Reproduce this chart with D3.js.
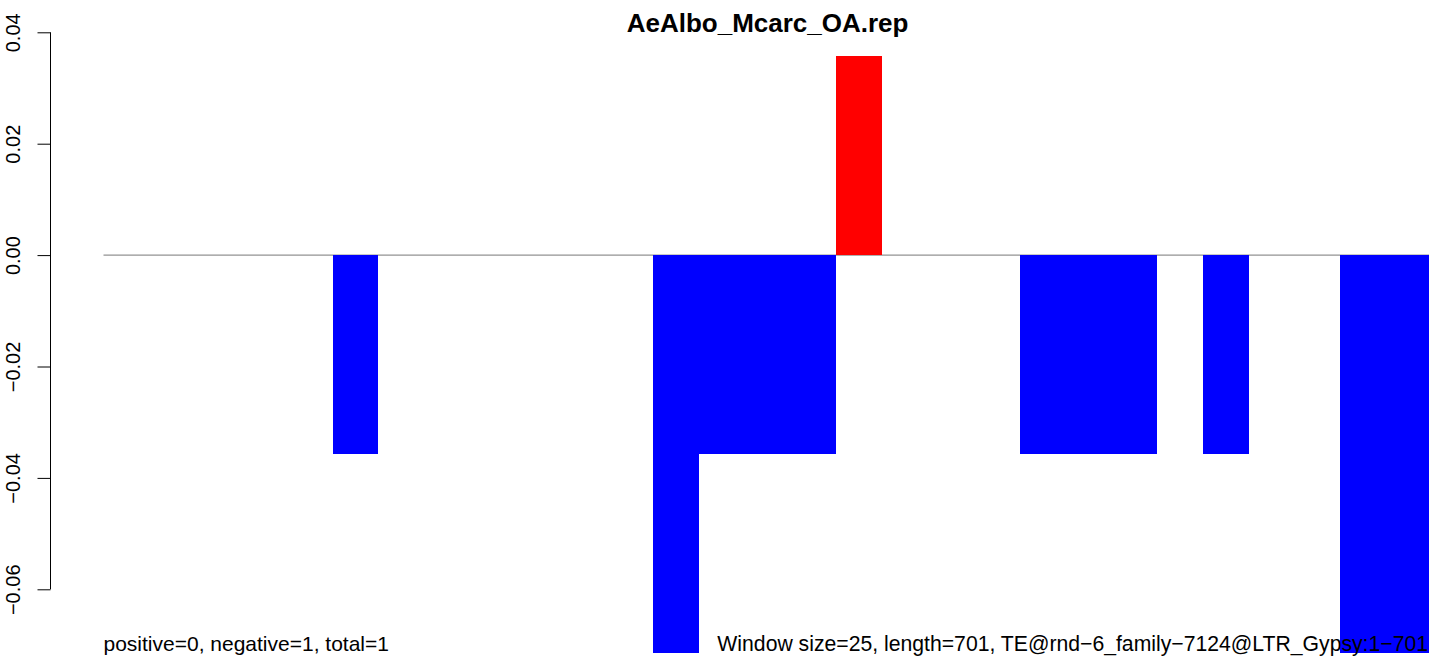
<!DOCTYPE html>
<html>
<head>
<meta charset="utf-8">
<script src="https://cdn.jsdelivr.net/npm/d3@7"></script>
<style>
  body { margin: 0; background: #fff; }
  svg { display: block; font-family: "Liberation Sans", Arial, Helvetica, sans-serif; }
</style>
</head>
<body>
<svg id="chart" width="1429" height="656"></svg>
<script>
// one value per 25 bp window (29 windows over 701 bp)
var windows = d3.range(29);
var values = [0, 0, 0, 0, 0, -0.0357, 0, 0, 0, 0, 0, 0, -0.0714, -0.0357, -0.0357,
	-0.0357, 0.0357, 0, 0, 0, -0.0357, -0.0357, -0.0357, 0, -0.0357, 0, 0, -0.0714, -0.0714];
var yTicks = [-0.06, -0.04, -0.02, 0.00, 0.02, 0.04];
var title = "AeAlbo_Mcarc_OA.rep";
var leftNote = "positive=0, negative=1, total=1";
var rightNote = "Window size=25, length=701, TE@rnd\u22126_family\u22127124@LTR_Gypsy:1\u2212701";

var svg = d3.select("#chart");

var plotLeft = 103.5, barW = 45.8;
var x = d3.scaleBand().domain(windows).range([plotLeft, plotLeft + windows.length * barW]).padding(0);
var y = d3.scaleLinear().domain([-0.06, 0.04]).range([589.3, 32.3]);

// zero line
svg.append("line")
	.attr("x1", plotLeft).attr("x2", 1429)
	.attr("y1", y(0)).attr("y2", y(0))
	.attr("stroke", "#777").attr("stroke-width", 1);

svg.selectAll(".bar")
	.data(windows.filter(function(i) { return values[i] != 0; }))
	.enter().append("rect")
	.attr("class", "bar")
	.attr("x", function(i) { return x(i); })
	.attr("width", x.bandwidth())
	.attr("y", function(i) { return values[i] > 0 ? y(values[i]) : y(0); })
	.attr("height", function(i) { return Math.abs(y(values[i]) - y(0)); })
	.attr("fill", function(i) { return values[i] > 0 ? "#ff0000" : "#0000ff"; })
	.attr("shape-rendering", "crispEdges");

// notes at the bottom, written over the bars
svg.append("text")
	.attr("x", plotLeft).attr("y", 651)
	.attr("font-size", 21).attr("fill", "#000")
	.text(leftNote);

svg.append("text")
	.attr("x", 1428).attr("y", 651)
	.attr("text-anchor", "end")
	.attr("font-size", 21.2).attr("fill", "#000")
	.text(rightNote);

// y axis, R style: rotated labels
var yAxis = svg.append("g")
	.attr("transform", "translate(50.5,0)")
	.call(d3.axisLeft(y).tickValues(yTicks).tickSize(13).tickSizeOuter(0).tickFormat(d3.format(".2f")));

yAxis.select(".domain")
	.attr("d", "M0," + y(0.04) + "V" + y(-0.06))
	.attr("stroke", "#000");
yAxis.selectAll(".tick line").attr("stroke", "#000");
yAxis.selectAll(".tick text")
	.attr("x", null).attr("dy", null)
	.attr("transform", "translate(-30.5,0) rotate(-90)")
	.attr("text-anchor", "middle")
	.attr("font-size", 20)
	.attr("font-family", "Liberation Sans, Arial, sans-serif")
	.attr("fill", "#000");

svg.append("text")
	.attr("x", (x.range()[0] + x.range()[1]) / 2).attr("y", 32)
	.attr("text-anchor", "middle")
	.attr("font-size", 26).attr("font-weight", "bold")
	.text(title);
</script>
</body>
</html>
